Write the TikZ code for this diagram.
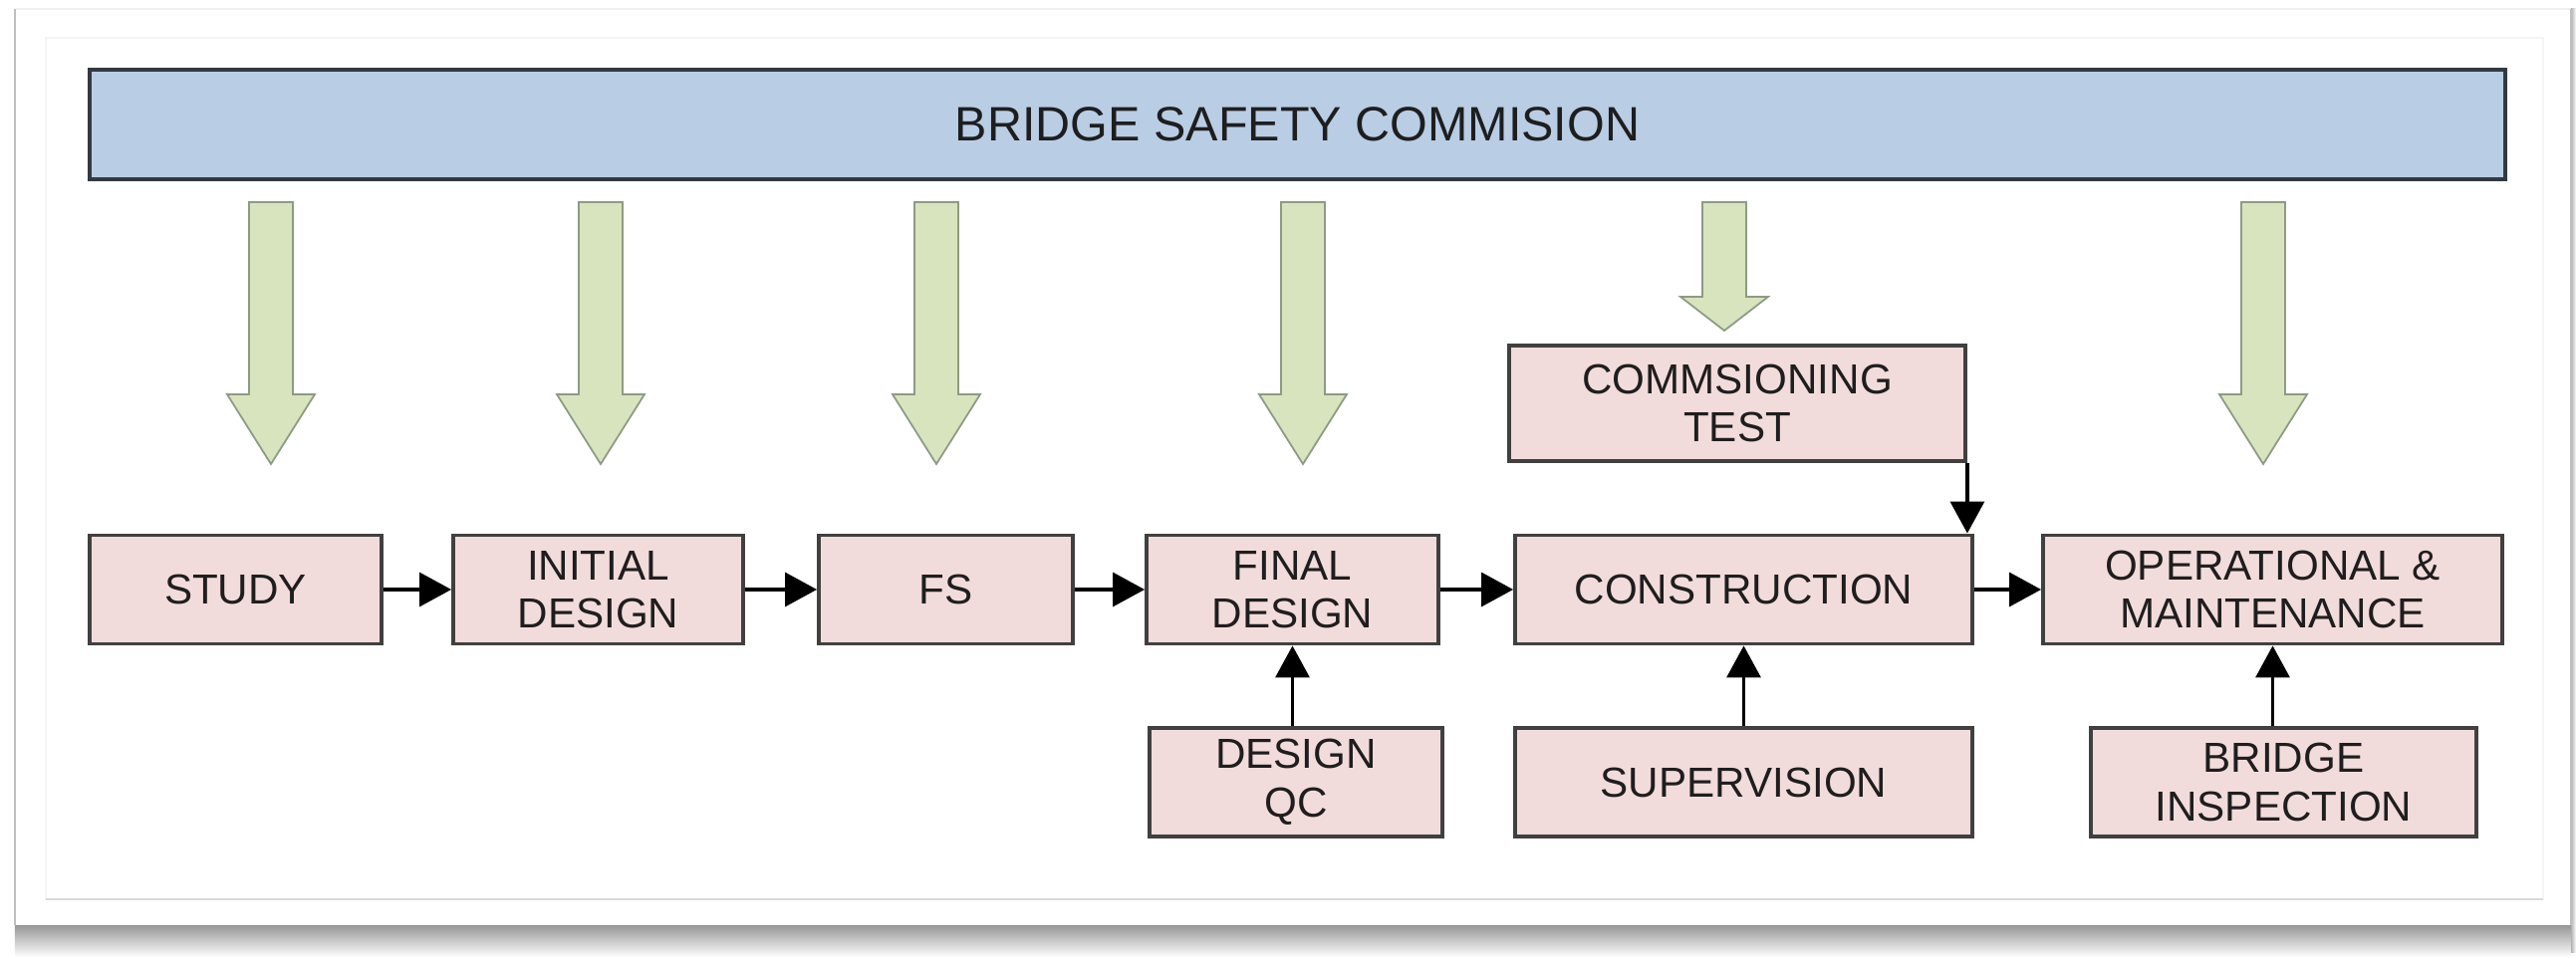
\documentclass[tikz,border=0pt]{standalone}
\usepackage{fontspec}
\setmainfont{Liberation Sans}
\usetikzlibrary{arrows.meta}

\definecolor{boxpink}{HTML}{F2DCDB}
\definecolor{boxline}{HTML}{404040}
\definecolor{barblue}{HTML}{B9CDE5}
\definecolor{barline}{HTML}{33393F}
\definecolor{arrowgreen}{HTML}{D7E4BD}
\definecolor{arrowline}{HTML}{8E9A84}
\definecolor{textgray}{HTML}{1E1E1E}

\tikzset{
  stage/.style={draw=boxline, line width=1.1pt, fill=boxpink, inner sep=0pt,
    minimum height=1.09cm, align=center, text=textgray,
    font=\fontsize{12}{13.8}\selectfont},
  feed/.style={-{Triangle[length=0.32cm,width=0.34cm]}, line width=0.95pt, black},
  safety/.style={draw=arrowline, line width=0.5pt, fill=arrowgreen},
}

\begin{document}
\begin{tikzpicture}
\useasboundingbox (0,0) rectangle (25.86,9.61);

% card and its shadow
\shade[top color=gray!85, bottom color=white] (0.15,0) rectangle (25.81,0.33);
\shade[left color=gray!60, right color=white] (25.81,0.05) rectangle (25.86,9.52);
\fill[white] (0.15,0.32) rectangle (25.81,9.52);
\draw[gray!12] (0.15,9.52) -- (25.81,9.52);
\draw[gray!50, line width=0.6pt] (0.15,0.32) -- (0.15,9.52);
\draw[gray!50, line width=0.6pt] (25.81,0.32) -- (25.81,9.52);
\draw[gray!8] (0.46,0.58) rectangle (25.53,9.23);
\draw[gray!30] (0.46,0.58) -- (25.53,0.58);

% commission bar
\node[draw=barline, line width=1.1pt, fill=barblue, minimum width=24.25cm,
  minimum height=1.1cm, inner sep=0pt, text=textgray,
  font=\fontsize{13.8}{16}\selectfont] (bsc) at (13.025,8.36) {BRIDGE SAFETY COMMISION};

% green arrows
\draw[safety] (2.50,7.58) -- ++(0.44,0) -- ++(0,-1.93) -- ++(0.22,0) -- ++(-0.44,-0.70) -- ++(-0.44,0.70) -- ++(0.22,0) -- cycle;
\draw[safety] (5.81,7.58) -- ++(0.44,0) -- ++(0,-1.93) -- ++(0.22,0) -- ++(-0.44,-0.70) -- ++(-0.44,0.70) -- ++(0.22,0) -- cycle;
\draw[safety] (9.18,7.58) -- ++(0.44,0) -- ++(0,-1.93) -- ++(0.22,0) -- ++(-0.44,-0.70) -- ++(-0.44,0.70) -- ++(0.22,0) -- cycle;
\draw[safety] (12.86,7.58) -- ++(0.44,0) -- ++(0,-1.93) -- ++(0.22,0) -- ++(-0.44,-0.70) -- ++(-0.44,0.70) -- ++(0.22,0) -- cycle;
\draw[safety] (17.09,7.58) -- ++(0.44,0) -- ++(0,-0.95) -- ++(0.22,0) -- ++(-0.44,-0.34) -- ++(-0.44,0.34) -- ++(0.22,0) -- cycle;
\draw[safety] (22.50,7.58) -- ++(0.44,0) -- ++(0,-1.93) -- ++(0.22,0) -- ++(-0.44,-0.70) -- ++(-0.44,0.70) -- ++(0.22,0) -- cycle;

% stages
\node[stage, minimum width=2.93cm] (study) at (2.365,3.69) {STUDY};
\node[stage, minimum width=2.91cm] (init) at (6.005,3.69) {INITIAL\\DESIGN};
\node[stage, minimum width=2.55cm] (fs) at (9.495,3.69) {FS};
\node[stage, minimum width=2.93cm] (final) at (12.975,3.69) {FINAL\\DESIGN};
\node[stage, minimum width=4.59cm] (cons) at (17.505,3.69) {CONSTRUCTION};
\node[stage, minimum width=4.61cm] (op) at (22.815,3.69) {OPERATIONAL \&\\MAINTENANCE};

\node[stage, minimum width=4.58cm, minimum height=1.16cm] (comm) at (17.44,5.56) {COMMSIONING\\TEST};
\node[stage, minimum width=2.94cm] (dqc) at (13.01,1.755) {DESIGN\\QC};
\node[stage, minimum width=4.59cm] (sup) at (17.505,1.755) {SUPERVISION};
\node[stage, minimum width=3.87cm] (bi) at (22.925,1.755) {BRIDGE\\INSPECTION};

\draw[feed] (study) -- (init);
\draw[feed] (init) -- (fs);
\draw[feed] (fs) -- (final);
\draw[feed] (final) -- (cons);
\draw[feed] (cons) -- (op);

\draw[feed] (dqc.north -| final.south) -- (final.south);
\draw[feed] (sup) -- (cons);
\draw[feed] (bi.north -| op.south) -- (op.south);
\draw[feed] (comm.south east) -- (comm.south east |- cons.north);
\end{tikzpicture}
\end{document}
